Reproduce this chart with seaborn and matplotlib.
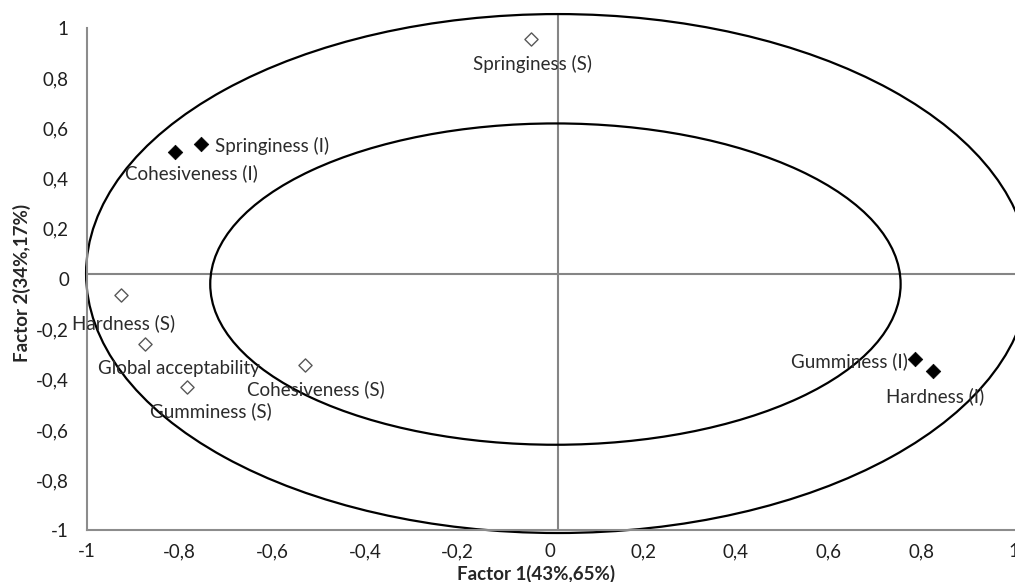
import pandas as pd
import matplotlib
matplotlib.use("Agg")
import matplotlib.pyplot as plt
from matplotlib.patches import Ellipse
import seaborn as sns

# loadings
labels = ["Springiness (I)", "Cohesiveness (I)", "Gumminess (I)", "Hardness (I)",
          "Springiness (S)", "Hardness (S)", "Global acceptability",
          "Gumminess (S)", "Cohesiveness (S)"]
factor1 = [-0.754, -0.81, 0.786, 0.825, -0.041, -0.927, -0.875, -0.784, -0.529]
factor2 = [0.539, 0.507, -0.319, -0.367, 0.954, -0.064, -0.259, -0.431, -0.343]
group = ["I", "I", "I", "I", "S", "S", "S", "S", "S"]

ticks = [-1, -0.8, -0.6, -0.4, -0.2, 0, 0.2, 0.4, 0.6, 0.8, 1]
tick_labels = ["-1", "-0,8", "-0,6", "-0,4", "-0,2", "0", "0,2", "0,4", "0,6", "0,8", "1"]

df = pd.DataFrame({"label": labels, "f1": factor1, "f2": factor2, "group": group})

sns.set_style("white")
plt.rcParams["font.family"] = ["Lato", "DejaVu Sans"]

fig = plt.figure(figsize=(10.15, 5.82), dpi=100)
ax = fig.add_axes([0.0857, 0.0885, 0.913, 0.864])

# ellipses + cross lines
ax.add_patch(Ellipse((0.016, 0.022), 2.036, 2.064, fill=False, ec="black",
                     lw=1.6, clip_on=False, zorder=2))
ax.add_patch(Ellipse((0.011, -0.02), 1.49, 1.278, fill=False, ec="black",
                     lw=1.6, clip_on=False, zorder=2))
ax.plot([-1, 1.01], [0.02, 0.02], color="#858585", lw=1.5, clip_on=False, zorder=1)
ax.plot([0.017, 0.017], [-1, 1.055], color="#858585", lw=1.5, clip_on=False, zorder=1)

sns.scatterplot(data=df[df.group == "I"], x="f1", y="f2", marker="D", s=55,
                color="black", edgecolor="black", linewidth=0.5, ax=ax, zorder=3)
sns.scatterplot(data=df[df.group == "S"], x="f1", y="f2", marker="D", s=45,
                color="white", edgecolor="#595959", linewidth=1.0, ax=ax, zorder=3)

# label offsets in pixels (dx, dy, ha)
offsets = {
    "Springiness (I)": (14, -2, "left"),
    "Cohesiveness (I)": (16, -22, "center"),
    "Gumminess (I)": (-7, -2, "right"),
    "Hardness (I)": (3, -25, "center"),
    "Springiness (S)": (1, -25, "center"),
    "Hardness (S)": (3, -28, "center"),
    "Global acceptability": (34, -24, "center"),
    "Gumminess (S)": (24, -24, "center"),
    "Cohesiveness (S)": (11, -24, "center"),
}
for _, r in df.iterrows():
    dx, dy, ha = offsets[r["label"]]
    ax.annotate(r["label"], (r["f1"], r["f2"]), xytext=(dx, dy),
                textcoords="offset pixels", ha=ha, va="center",
                fontsize=13.5, color="#2b2b2b", zorder=4)

ax.set_xlim(-1, 1)
ax.set_ylim(-1, 1)
ax.set_xticks(ticks)
ax.set_xticklabels(tick_labels)
ax.set_yticks(ticks)
ax.set_yticklabels(tick_labels)
ax.tick_params(axis="both", length=0, labelsize=13.5, labelcolor="#1f1f1f")
ax.tick_params(axis="x", pad=9)
ax.tick_params(axis="y", pad=13)

for side in ["top", "right"]:
    ax.spines[side].set_visible(False)
for side in ["left", "bottom"]:
    ax.spines[side].set_color("#8c8c8c")
    ax.spines[side].set_linewidth(1.5)

ax.set_xlabel("Factor 1(43%,65%)", fontsize=13.5, fontweight="bold")
ax.set_ylabel("Factor 2(34%,17%)", fontsize=13.5, fontweight="bold")
ax.xaxis.set_label_coords(0.485, -0.068)
ax.yaxis.set_label_coords(-0.06, 0.492)

fig.savefig("out.png", dpi=100)
